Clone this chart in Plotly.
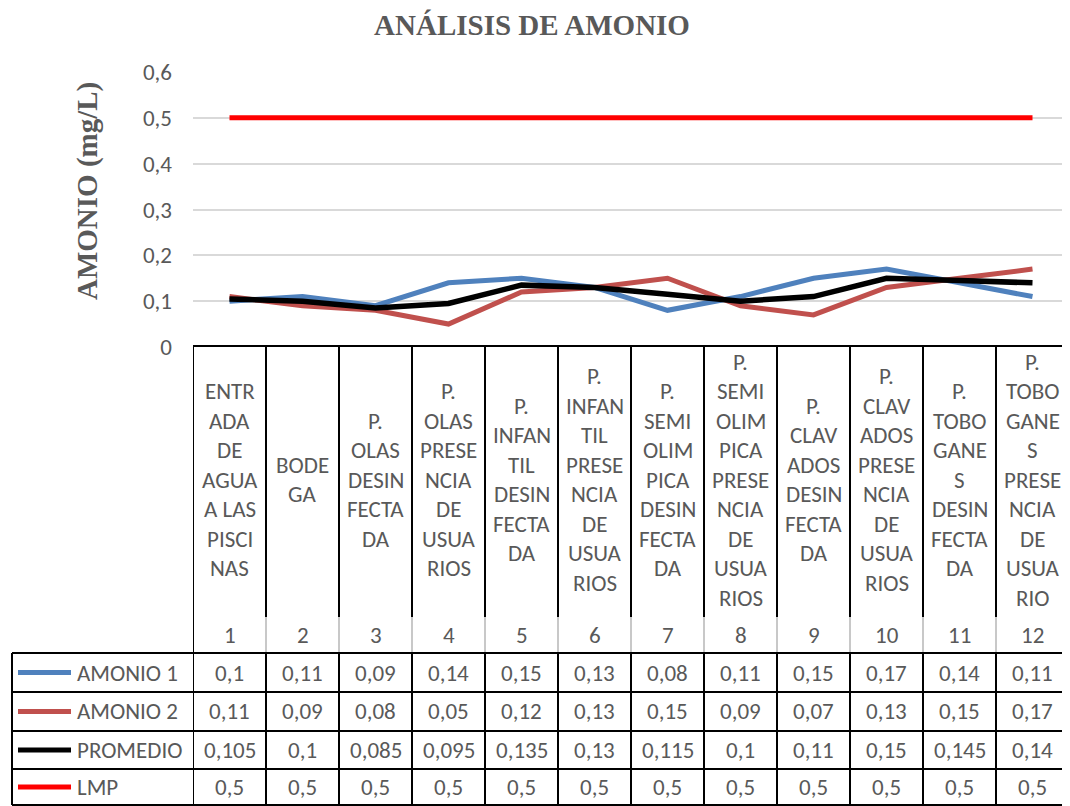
"""
Análisis de amonio: line chart with an Excel-style data table underneath
"""

import plotly.graph_objects as go

# ---- data -----------------------------------------------------------------
# category labels, already broken the way the chart wraps them ("|" = new line)
CATEGORIES = [
    "ENTR|ADA|DE|AGUA|A LAS|PISCI|NAS",
    "BODE|GA",
    "P.|OLAS|DESIN|FECTA|DA",
    "P.|OLAS|PRESE|NCIA|DE|USUA|RIOS",
    "P.|INFAN|TIL|DESIN|FECTA|DA",
    "P.|INFAN|TIL|PRESE|NCIA|DE|USUA|RIOS",
    "P.|SEMI|OLIM|PICA|DESIN|FECTA|DA",
    "P.|SEMI|OLIM|PICA|PRESE|NCIA|DE|USUA|RIOS",
    "P.|CLAV|ADOS|DESIN|FECTA|DA",
    "P.|CLAV|ADOS|PRESE|NCIA|DE|USUA|RIOS",
    "P.|TOBO|GANE|S|DESIN|FECTA|DA",
    "P.|TOBO|GANE|S|PRESE|NCIA|DE|USUA|RIO",
]
POINT_NUMBERS = [1, 2, 3, 4, 5, 6, 7, 8, 9, 10, 11, 12]

AMONIO_1 = [0.1, 0.11, 0.09, 0.14, 0.15, 0.13, 0.08, 0.11, 0.15, 0.17, 0.14, 0.11]
AMONIO_2 = [0.11, 0.09, 0.08, 0.05, 0.12, 0.13, 0.15, 0.09, 0.07, 0.13, 0.15, 0.17]
PROMEDIO = [0.105, 0.1, 0.085, 0.095, 0.135, 0.13, 0.115, 0.1, 0.11, 0.15, 0.145, 0.14]
LMP = [0.5, 0.5, 0.5, 0.5, 0.5, 0.5, 0.5, 0.5, 0.5, 0.5, 0.5, 0.5]

SERIES = [
    ("AMONIO 1", AMONIO_1, "#4F81BD"),
    ("AMONIO 2", AMONIO_2, "#C0504D"),
    ("PROMEDIO", PROMEDIO, "#000000"),
    ("LMP", LMP, "#FF0000"),
]

Y_TICKS = [0, 0.1, 0.2, 0.3, 0.4, 0.5, 0.6]

# ---- layout helpers ---------------------------------------------------------
# positions below are page pixels; the page body has an 8px margin
PAGE_W, PAGE_H, OFF = 1070, 806, 8
W, H = PAGE_W - OFF, PAGE_H - OFF
PLOT_L, PLOT_R, PLOT_T, PLOT_B = 193, 1069, 72, 347
TEXT = "#595959"
SANS = "Calibri, Carlito, Lato, sans-serif"
SERIF = "Times New Roman, Liberation Serif, serif"
TXT_SIZE = 23


def py(y):
    """page pixel row -> paper y"""
    return (PLOT_B - y) / (PLOT_B - PLOT_T)


def px(x):
    """page pixel column -> paper x"""
    return (x - PLOT_L) / (PLOT_R - PLOT_L)


def fmt(v):
    return f"{v:g}".replace(".", ",")


def label(x, y, text, xref="x", xanchor="center", **font):
    f = dict(family=SANS, size=TXT_SIZE, color=TEXT)
    f.update(font)
    return dict(x=x, y=y, xref=xref, yref="paper", text=text, showarrow=False,
                xanchor=xanchor, yanchor="middle", font=f)


x_vals = POINT_NUMBERS

fig = go.Figure()
for name, values, color in SERIES:
    fig.add_trace(go.Scatter(
        x=x_vals, y=values, name=name, mode="lines",
        line=dict(color=color, width=5.5 if name == "PROMEDIO" else 5),
        showlegend=False,
    ))

shapes = []
annotations = []

# category area and table grid
CAT_TOP, CAT_BOT, NUM_BOT = 346, 617, 653
ROWS = [653, 692, 731, 769, 805]
LEG_L = 12
black = dict(color="#000000", width=2)

shapes.append(dict(type="line", xref="x", yref="paper", x0=0.5, x1=12.5,
                   y0=py(CAT_TOP), y1=py(CAT_TOP), line=black))
for k in range(13):
    xk = 0.5 + k
    shapes.append(dict(type="line", xref="x", yref="paper", x0=xk, x1=xk,
                       y0=py(CAT_TOP), y1=py(CAT_BOT), line=black))
    shapes.append(dict(type="line", xref="x", yref="paper", x0=xk, x1=xk,
                       y0=py(CAT_BOT), y1=py(NUM_BOT),
                       line=black if k == 0 else dict(color="#C8C8C8", width=2)))
    shapes.append(dict(type="line", xref="x", yref="paper", x0=xk, x1=xk,
                       y0=py(ROWS[0]), y1=py(ROWS[-1]), line=black))
shapes.append(dict(type="line", xref="paper", yref="paper", x0=px(LEG_L), x1=px(LEG_L),
                   y0=py(ROWS[0]), y1=py(ROWS[-1]), line=black))
for r in ROWS:
    shapes.append(dict(type="line", xref="paper", yref="paper", x0=px(LEG_L), x1=1,
                       y0=py(r), y1=py(r), line=black))

# wrapped category names, centred in their cells
LINE_H = 29.5
cat_mid = (CAT_TOP + CAT_BOT) / 2 - 2
for i, cat in enumerate(CATEGORIES):
    lines = cat.split("|")
    n = len(lines)
    for j, txt in enumerate(lines):
        annotations.append(label(x_vals[i], py(cat_mid + (j - (n - 1) / 2) * LINE_H), txt))
    annotations.append(label(x_vals[i], py(635), str(POINT_NUMBERS[i])))

# data table rows with legend keys
for r, (name, values, color) in enumerate(SERIES):
    yc = (ROWS[r] + ROWS[r + 1]) / 2
    shapes.append(dict(type="line", xref="paper", yref="paper", x0=px(18), x1=px(71),
                       y0=py(yc), y1=py(yc), line=dict(color=color, width=5)))
    annotations.append(label(px(75), py(yc), name, xref="paper", xanchor="left"))
    for i, v in enumerate(values):
        annotations.append(label(x_vals[i], py(yc), fmt(v)))

# y axis title
yt = label(px(87), py(191), "AMONIO (mg/L)", xref="paper",
           family=SERIF, size=29, weight="bold")
yt["textangle"] = -90
annotations.append(yt)

fig.update_layout(
    width=W, height=H,
    margin=dict(l=PLOT_L - OFF, r=PAGE_W - PLOT_R, t=PLOT_T - OFF, b=PAGE_H - PLOT_B),
    paper_bgcolor="white", plot_bgcolor="white",
    separators=",.",
    title=dict(text="ANÁLISIS DE AMONIO", x=(532 - OFF) / W, xanchor="center",
               y=1 - (25 - OFF) / H, yanchor="middle",
               font=dict(family=SERIF, size=29, color=TEXT, weight="bold")),
    xaxis=dict(range=[0.5, 12.5], showgrid=False, zeroline=False,
               showticklabels=False, showline=False),
    yaxis=dict(range=[0, 0.6], tickvals=Y_TICKS, showgrid=True,
               gridcolor="#D9D9D9", gridwidth=1.5, zeroline=False, showline=False,
               ticks="", ticklabelstandoff=20,
               tickfont=dict(family=SANS, size=TXT_SIZE, color=TEXT)),
    shapes=shapes,
    annotations=annotations,
    showlegend=False,
)

fig.write_html("out.html")
